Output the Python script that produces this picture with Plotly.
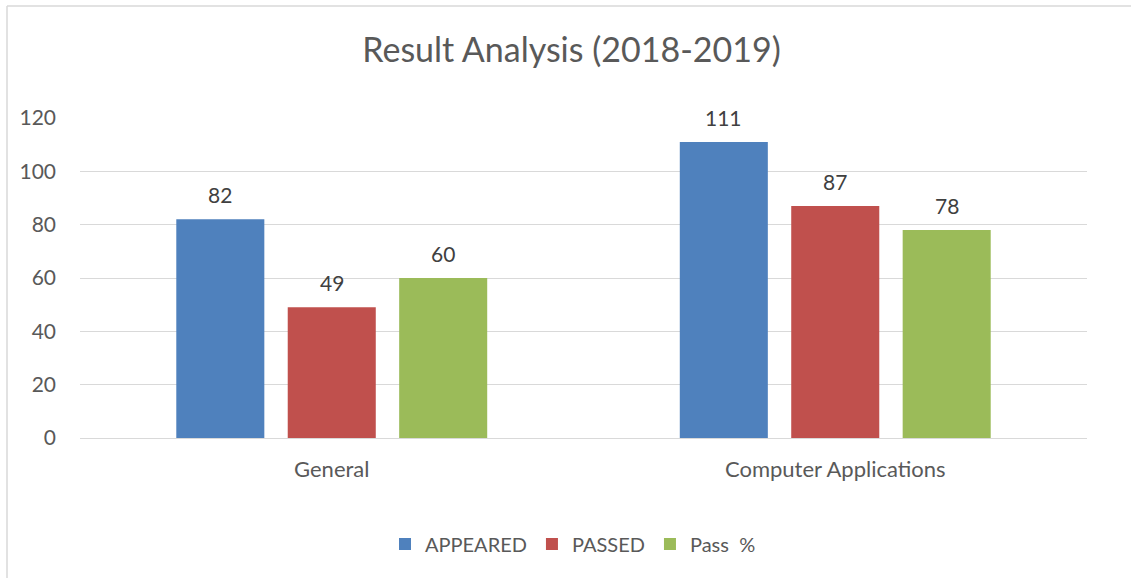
import plotly.graph_objects as go

categories = ["General", "Computer Applications"]
series_names = ["APPEARED", "PASSED", "Pass  %"]
appeared = [82, 111]
passed = [49, 87]
pass_pct = [60, 78]
colors = ["#4f81bd", "#c0504d", "#9bbb59"]
y_ticks = [0, 20, 40, 60, 80, 100, 120]

W, H = 1131, 578
L, R, T, B = 80, 44, 118, 140

FONT = "Lato, Open Sans, sans-serif"
BARGAP, GROUPGAP = 0.336, 0.21

fig = go.Figure()
series = [appeared, passed, pass_pct]
for name, vals, col in zip(series_names, series, colors):
    fig.add_trace(go.Bar(
        x=categories, y=vals, name=name, marker_color=col, marker_line_width=0,
        hoverinfo="x+y+name",
    ))

pw = W - L - R
ph = H - T - B
def px(x):
    return (x - L) / pw
def py(y):
    return (H - B - y) / ph

# data labels above bars, positioned with the x/y scales
slot = pw / len(categories) * (1 - BARGAP) / len(series)
annotations = []
for i, vals in enumerate(series):
    for c, v in zip(categories, vals):
        annotations.append(dict(
            x=c, y=v, xref="x", yref="y", text=str(v), showarrow=False,
            xshift=(i - 1) * slot, yshift=25, yanchor="middle",
            font=dict(size=21, color="#404040", family=FONT)))

fig.update_layout(
    width=W, height=H,
    margin=dict(l=L, r=R, t=T, b=B),
    paper_bgcolor="white", plot_bgcolor="white",
    barmode="group", bargap=BARGAP, bargroupgap=GROUPGAP,
    title=dict(text="Result Analysis (2018-2019)", x=px(571.5), xanchor="center",
               xref="paper", y=1 - 50 / H, yanchor="middle",
               font=dict(size=34, color="#595959", family=FONT)),
    font=dict(family=FONT, color="#595959"),
    showlegend=True,
    legend=dict(orientation="h", x=px(573), xanchor="center", y=py(544), yanchor="middle",
                font=dict(size=20, color="#595959"), itemwidth=30,
                traceorder="normal"),
    xaxis=dict(showgrid=False, showline=False, ticks="", tickfont=dict(size=22, color="#595959"),
               ticklabelstandoff=16),
    yaxis=dict(range=[0, 120], tickvals=y_ticks, showgrid=True, gridcolor="#d9d9d9", gridwidth=1,
               zeroline=True, zerolinecolor="#d9d9d9", zerolinewidth=1,
               showline=False, ticks="", tickfont=dict(size=21, color="#595959"),
               ticklabelstandoff=23),
    annotations=annotations,
    shapes=[
        dict(type="line", xref="paper", yref="paper", x0=px(7), x1=px(7), y0=py(578), y1=py(6),
             line=dict(color="#d9d9d9", width=1.5)),
        dict(type="line", xref="paper", yref="paper", x0=px(7), x1=px(1131), y0=py(6), y1=py(6),
             line=dict(color="#d9d9d9", width=1.5)),
    ],
)

fig.write_html("out.html", config={"displayModeBar": False},
               post_script="document.body.style.margin='0';")
